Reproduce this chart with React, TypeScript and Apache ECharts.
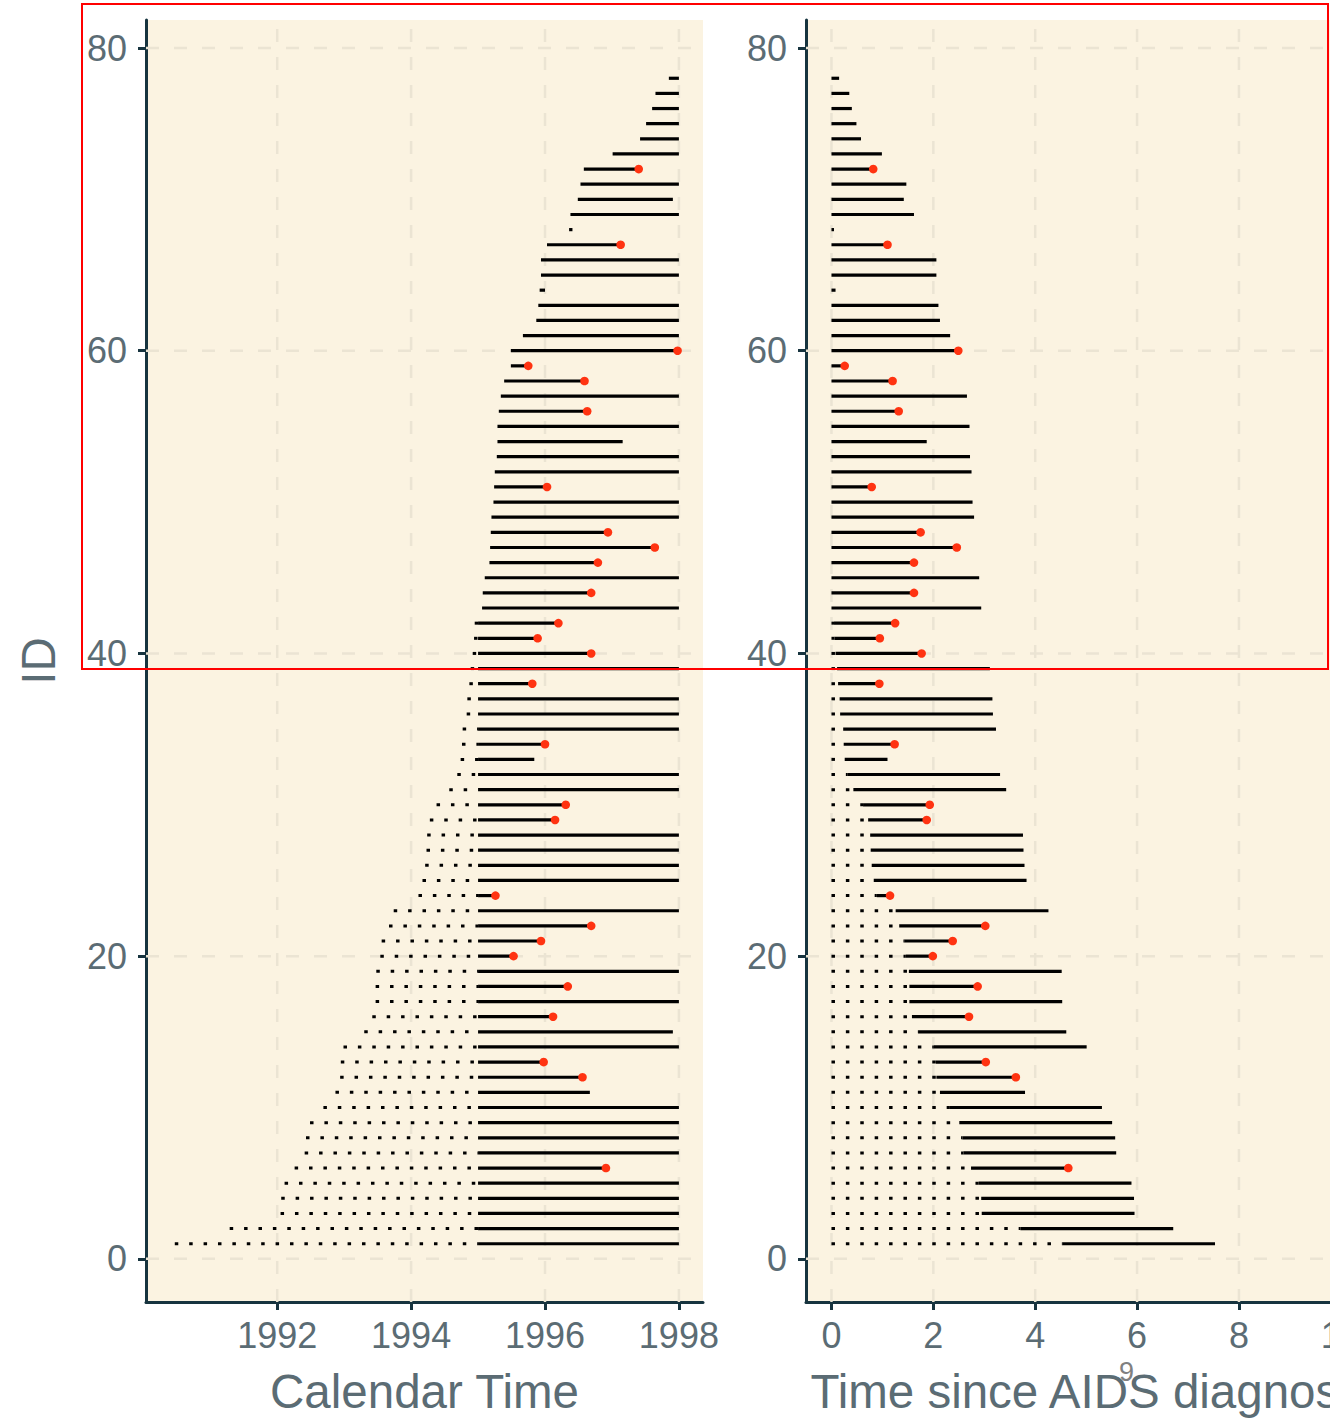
import React, { useEffect, useRef } from "react";
import * as echarts from "echarts";

// ---- data ----
const STUDY_START = 1995;

// calendar date of AIDS diagnosis, for ID 1..78
const diagnosisDate = [
  1990.47, 1991.29, 1992.05, 1992.06, 1992.11, 1992.26, 1992.41, 1992.43, 1992.49, 1992.69,
  1992.87, 1992.94, 1992.95, 1992.99, 1993.3, 1993.42, 1993.47, 1993.47, 1993.48, 1993.54,
  1993.56, 1993.67, 1993.74, 1994.11, 1994.17, 1994.21, 1994.23, 1994.24, 1994.28, 1994.38,
  1994.57, 1994.69, 1994.74, 1994.76, 1994.77, 1994.83, 1994.84, 1994.87, 1994.89, 1994.92,
  1994.94, 1994.95, 1995.06, 1995.07, 1995.1, 1995.17, 1995.18, 1995.19, 1995.2, 1995.23,
  1995.24, 1995.25, 1995.28, 1995.29, 1995.29, 1995.31, 1995.34, 1995.39, 1995.49, 1995.49,
  1995.67, 1995.87, 1995.9, 1995.92, 1995.94, 1995.94, 1996.03, 1996.36, 1996.38, 1996.49,
  1996.53, 1996.58, 1997.01, 1997.42, 1997.51, 1997.6, 1997.65, 1997.85,
];

// calendar date of exit (death or censoring), for ID 1..78
const exitDate = [
  1998, 1998, 1998, 1998, 1998, 1996.91, 1998, 1998, 1998, 1998,
  1996.67, 1996.56, 1995.98, 1998, 1997.91, 1996.12, 1998, 1996.34, 1998, 1995.53,
  1995.94, 1996.69, 1998, 1995.26, 1998, 1998, 1998, 1998, 1996.15, 1996.31,
  1998, 1998, 1995.84, 1996.0, 1998, 1998, 1998, 1995.81, 1998, 1996.69,
  1995.89, 1996.2, 1998, 1996.69, 1998, 1996.79, 1997.64, 1996.94, 1998, 1998,
  1996.03, 1998, 1998, 1997.16, 1998, 1996.63, 1998, 1996.59, 1995.75, 1997.98,
  1998, 1998, 1998, 1996.0, 1998, 1998, 1997.13, 1996.41, 1998, 1997.91,
  1998, 1997.4, 1998, 1998, 1998, 1998, 1998, 1998,
];

// 1 = died (red point), 0 = censored
const died = [
  0, 0, 0, 0, 0, 1, 0, 0, 0, 0,
  0, 1, 1, 0, 0, 1, 0, 1, 0, 1,
  1, 1, 0, 1, 0, 0, 0, 0, 1, 1,
  0, 0, 0, 1, 0, 0, 0, 1, 0, 1,
  1, 1, 0, 1, 0, 1, 1, 1, 0, 0,
  1, 0, 0, 0, 0, 1, 0, 1, 1, 1,
  0, 0, 0, 0, 0, 0, 1, 0, 0, 0,
  0, 1, 0, 0, 0, 0, 0, 0,
];

const calendarTicks = [1992, 1994, 1996, 1998];
const sinceTicks = [0, 2, 4, 6, 8, 10];
const idTicks = [0, 20, 40, 60, 80];

// ---- styles ----
const FONT = "'Liberation Sans', Arial, Helvetica, sans-serif";
const AXIS_COLOR = "#17343F";
const TEXT_COLOR = "#5B6C74";
const PANEL_BG = "#FBF3E1";
const GRID_COLOR = "#EBE4D3";
const POINT_COLOR = "#FF3311";

function makeX(gridIndex: number, min: number, max: number, ticks: number[], name: string) {
  return {
    type: "value",
    gridIndex,
    min,
    max,
    position: "bottom",
    splitLine: { show: false },
    axisLine: { show: true, onZero: false, lineStyle: { color: AXIS_COLOR, width: 3 } },
    axisTick: { show: true, length: 8, lineStyle: { color: AXIS_COLOR, width: 3 }, customValues: ticks },
    axisLabel: {
      show: true,
      customValues: ticks,
      formatter: (v: number) => String(v),
      fontSize: 36,
      color: TEXT_COLOR,
      margin: 15,
      fontFamily: FONT,
    },
    name,
    nameLocation: "middle",
    nameGap: 65,
    nameTextStyle: { fontSize: 47.5, color: TEXT_COLOR, fontFamily: FONT },
  };
}

function makeY(gridIndex: number, name: string) {
  return {
    type: "value",
    gridIndex,
    min: -2.85,
    max: 81.85,
    position: "left",
    splitLine: { show: false },
    axisLine: { show: true, onZero: false, lineStyle: { color: AXIS_COLOR, width: 3 } },
    axisTick: { show: true, length: 8, lineStyle: { color: AXIS_COLOR, width: 3 }, customValues: idTicks },
    axisLabel: {
      show: true,
      customValues: idTicks,
      formatter: (v: number) => String(v),
      fontSize: 36,
      color: TEXT_COLOR,
      margin: 19,
      fontFamily: FONT,
    },
    name,
    nameLocation: "middle",
    nameGap: 84,
    nameTextStyle: { fontSize: 47.5, color: TEXT_COLOR, fontFamily: FONT },
  };
}

function vGridSeries(idx: number, ticks: number[]) {
  return {
    type: "custom",
    xAxisIndex: idx,
    yAxisIndex: idx,
    silent: true,
    z: 1,
    data: ticks.map((v) => [v, 0]),
    encode: { x: 0, y: 1 },
    renderItem: (params: any, api: any) => {
      const cs = params.coordSys;
      const x = api.coord([api.value(0), 0])[0];
      return {
        type: "line",
        shape: { x1: x, y1: cs.y + cs.height, x2: x, y2: cs.y },
        style: { stroke: GRID_COLOR, lineWidth: 2.5, lineDash: [13, 15] },
      };
    },
  };
}

function hGridSeries(idx: number, xRef: number) {
  return {
    type: "custom",
    xAxisIndex: idx,
    yAxisIndex: idx,
    silent: true,
    z: 1,
    data: idTicks.map((v) => [xRef, v]),
    encode: { x: 0, y: 1 },
    renderItem: (params: any, api: any) => {
      const cs = params.coordSys;
      const y = api.coord([xRef, api.value(1)])[1];
      return {
        type: "line",
        shape: { x1: cs.x, y1: y, x2: cs.x + cs.width, y2: y },
        style: { stroke: GRID_COLOR, lineWidth: 2.5, lineDash: [13, 15] },
      };
    },
  };
}

function segmentSeries(idx: number, rows: number[][]) {
  return {
    type: "custom",
    xAxisIndex: idx,
    yAxisIndex: idx,
    silent: true,
    z: 3,
    data: rows,
    dimensions: ["id", "from", "entry", "to", "event"],
    encode: { x: [1, 2, 3], y: 0 },
    renderItem: (params: any, api: any) => {
      const id = api.value(0);
      const a = api.coord([api.value(1), id]);
      const b = api.coord([api.value(2), id]);
      const c = api.coord([api.value(3), id]);
      const ev = api.value(4);
      const children: any[] = [];
      if (b[0] - a[0] > 0.5) {
        children.push({
          type: "line",
          shape: { x1: a[0], y1: a[1], x2: b[0], y2: b[1] },
          style: { stroke: "#000", lineWidth: 3, lineDash: [3.5, 10.9], lineCap: "butt" },
        });
      }
      children.push({
        type: "line",
        shape: { x1: b[0], y1: b[1], x2: c[0], y2: c[1] },
        style: { stroke: "#000", lineWidth: 3.2, lineCap: "butt" },
      });
      if (ev === 1) {
        children.push({
          type: "circle",
          shape: { cx: c[0], cy: c[1], r: 4.3 },
          style: { fill: POINT_COLOR },
        });
      }
      return { type: "group", children };
    },
  };
}

export default function App() {
  const ref = useRef<HTMLDivElement>(null);

  useEffect(() => {
    if (!ref.current) return;
    const chart = echarts.init(ref.current, null, { renderer: "svg" });

    const calendarRows = diagnosisDate.map((d, i) => [
      i + 1,
      d,
      Math.max(d, STUDY_START),
      exitDate[i],
      died[i],
    ]);
    const sinceRows = diagnosisDate.map((d, i) => [
      i + 1,
      0,
      Math.max(0, STUDY_START - d),
      exitDate[i] - d,
      died[i],
    ]);

    chart.setOption({
      animation: false,
      backgroundColor: "#FFFFFF",
      grid: [
        { left: 146, top: 20, width: 557, height: 1283, show: true, backgroundColor: PANEL_BG, borderWidth: 0 },
        { left: 806, top: 20, width: 572, height: 1283, show: true, backgroundColor: PANEL_BG, borderWidth: 0 },
      ],
      xAxis: [
        makeX(0, 1990.04, 1998.36, calendarTicks, "Calendar Time"),
        makeX(1, -0.5, 10.73, sinceTicks, "Time since AIDS diagnosis"),
      ],
      yAxis: [makeY(0, "ID"), makeY(1, "")],
      series: [
        vGridSeries(0, calendarTicks),
        hGridSeries(0, 1995),
        vGridSeries(1, sinceTicks),
        hGridSeries(1, 5),
        segmentSeries(0, calendarRows),
        segmentSeries(1, sinceRows),
      ],
      graphic: [
        {
          type: "rect",
          z: 100,
          silent: true,
          shape: { x: 82, y: 4, width: 1246, height: 665 },
          style: { fill: "none", stroke: "#FF0000", lineWidth: 2 },
        },
        {
          type: "text",
          z: 100,
          silent: true,
          x: 1119,
          y: 1358,
          style: { text: "9", fontSize: 27, fill: "#808080", fontFamily: FONT },
        },
      ],
    });

    return () => chart.dispose();
  }, []);

  return (
    <div style={{ position: "absolute", left: 0, top: 0, width: 1330, height: 1420, overflow: "hidden", background: "#fff" }}>
      <div ref={ref} style={{ width: 1420, height: 1420 }} />
    </div>
  );
}
